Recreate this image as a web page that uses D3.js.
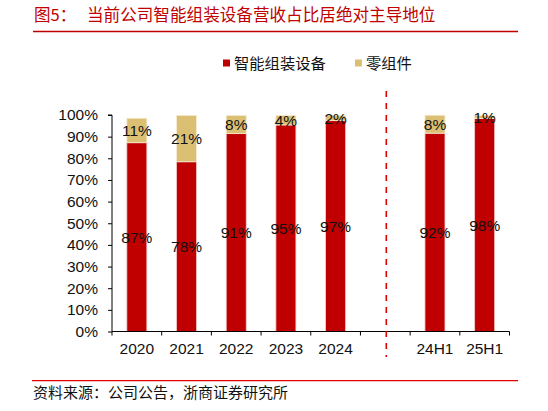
<!DOCTYPE html>
<html>
<head>
<meta charset="utf-8">
<script src="https://cdn.jsdelivr.net/npm/d3@7/dist/d3.min.js"></script>
<style>
  html, body { margin: 0; padding: 0; background: #fff; }
  svg { display: block; }
</style>
</head>
<body>
<svg id="chart" width="548" height="411"></svg>
<script>
// ---- data ----
const categories = ["2020", "2021", "2022", "2023", "2024", "", "24H1", "25H1"];
const equipment  = [87.2, 78.4, 91.4, 95.4, 97.4, null, 91.6, 98.4]; // 智能组装设备
const components = [11.3, 21.4, 8.4, 4.4, 2.4, null, 8.3, 1.4];     // 零组件
const seriesNames = ["智能组装设备", "零组件"];
const yTicks = [0, 10, 20, 30, 40, 50, 60, 70, 80, 90, 100];
const titleLabel = "图5：";
const titleText = "当前公司智能组装设备营收占比居绝对主导地位";
const sourceText = "资料来源：公司公告，浙商证券研究所";

// ---- styles ----
const RED = "#C00000", GOLD = "#DBC074";
const CJK = "'Noto Sans CJK SC', 'Noto Sans', sans-serif";
const LAT = "'Liberation Sans', Arial, sans-serif";

const svg = d3.select("#chart");

// title
svg.append("text").attr("x", 34).attr("y", 21)
  .attr("font-family", CJK).attr("font-size", 16.5).attr("fill", RED)
  .text(titleLabel);
svg.append("text").attr("x", 87).attr("y", 21)
  .attr("font-family", CJK).attr("font-size", 16.6).attr("fill", RED)
  .text(titleText);
svg.append("line").attr("x1", 33).attr("x2", 518).attr("y1", 31.5).attr("y2", 31.5)
  .attr("stroke", RED).attr("stroke-width", 1.3);

// scales
const x = d3.scaleBand().domain(categories).range([112, 509.5]).padding(0);
const y = d3.scaleLinear().domain([0, 100]).range([331.5, 115]);
const barW = 20;

// legend
const legend = [
  { name: seriesNames[0], color: RED, x: 223 },
  { name: seriesNames[1], color: GOLD, x: 355 }
];
const lg = svg.append("g");
legend.forEach(d => {
  lg.append("rect").attr("x", d.x).attr("y", 59.5).attr("width", 7).attr("height", 7).attr("fill", d.color);
  lg.append("text").attr("x", d.x + 11).attr("y", 68.5)
    .attr("font-family", CJK).attr("font-size", 15.3).attr("fill", "#111")
    .text(d.name);
});

// bars
const rows = categories.map((c, i) => ({ c, a: equipment[i], b: components[i] })).filter(d => d.a != null);
const gBars = svg.append("g");
rows.forEach(d => {
  const cx = x(d.c) + x.bandwidth() / 2;
  gBars.append("rect").attr("x", cx - barW / 2).attr("width", barW)
    .attr("y", y(d.a)).attr("height", y(0) - y(d.a))
    .attr("fill", RED).attr("stroke", "#f3c9c9").attr("stroke-width", 0.8);
  gBars.append("rect").attr("x", cx - barW / 2).attr("width", barW)
    .attr("y", y(d.a + d.b)).attr("height", y(d.a) - y(d.a + d.b))
    .attr("fill", GOLD).attr("stroke", "#f6ecd2").attr("stroke-width", 0.8);
});

// axes
const axisG = svg.append("g");
// y axis
const yAxis = d3.axisLeft(y).tickValues(yTicks).tickFormat(d => d + "%").tickSize(4).tickPadding(10);
const yg = axisG.append("g").attr("transform", "translate(112,0)").call(yAxis);
yg.select(".domain").attr("stroke", "#000").attr("d", `M-4,${y(100)}H0V${y(0)}`);
yg.selectAll(".tick line").attr("stroke", "#000");
yg.selectAll("text").attr("font-family", LAT).attr("font-size", 15.5).attr("fill", "#111");

// x axis: labels centered, ticks between categories
const xAxis = d3.axisBottom(x).tickSize(0).tickPadding(11);
const xg = axisG.append("g").attr("transform", `translate(0,${y(0)})`).call(xAxis);
xg.select(".domain").remove();
xg.selectAll("text").attr("font-family", LAT).attr("font-size", 15.5).attr("fill", "#111");
axisG.append("line").attr("x1", 112).attr("x2", 509.5).attr("y1", y(0)).attr("y2", y(0)).attr("stroke", "#000");
const edges = categories.map(c => x(c)).concat([x.range()[1]]);
axisG.selectAll(".xt").data(edges).join("line")
  .attr("x1", d => d).attr("x2", d => d).attr("y1", y(0)).attr("y2", y(0) + 4).attr("stroke", "#000");

// separator dashed line in the empty category
const sepX = x("") + x.bandwidth() / 2 + 1;
svg.append("line").attr("x1", sepX).attr("x2", sepX).attr("y1", 91).attr("y2", 357)
  .attr("stroke", "#E00000").attr("stroke-width", 1.6).attr("stroke-dasharray", "6,6");

// labels
const gl = svg.append("g").attr("font-family", LAT).attr("font-size", 15.5).attr("fill", "#111").attr("text-anchor", "middle");
rows.forEach(d => {
  const cx = x(d.c) + x.bandwidth() / 2;
  gl.append("text").attr("x", cx).attr("y", (y(0) + y(d.a)) / 2).attr("dy", "0.36em").text(Math.round(d.a) + "%");
  gl.append("text").attr("x", cx).attr("y", (y(d.a) + y(d.a + d.b)) / 2).attr("dy", "0.36em").text(Math.round(d.b) + "%");
});

// source
svg.append("line").attr("x1", 32).attr("x2", 518).attr("y1", 380.7).attr("y2", 380.7)
  .attr("stroke", "#E00000").attr("stroke-width", 1.3);
svg.append("text").attr("x", 33).attr("y", 398)
  .attr("font-family", CJK).attr("font-size", 15).attr("fill", "#111")
  .text(sourceText);
</script>
</body>
</html>
